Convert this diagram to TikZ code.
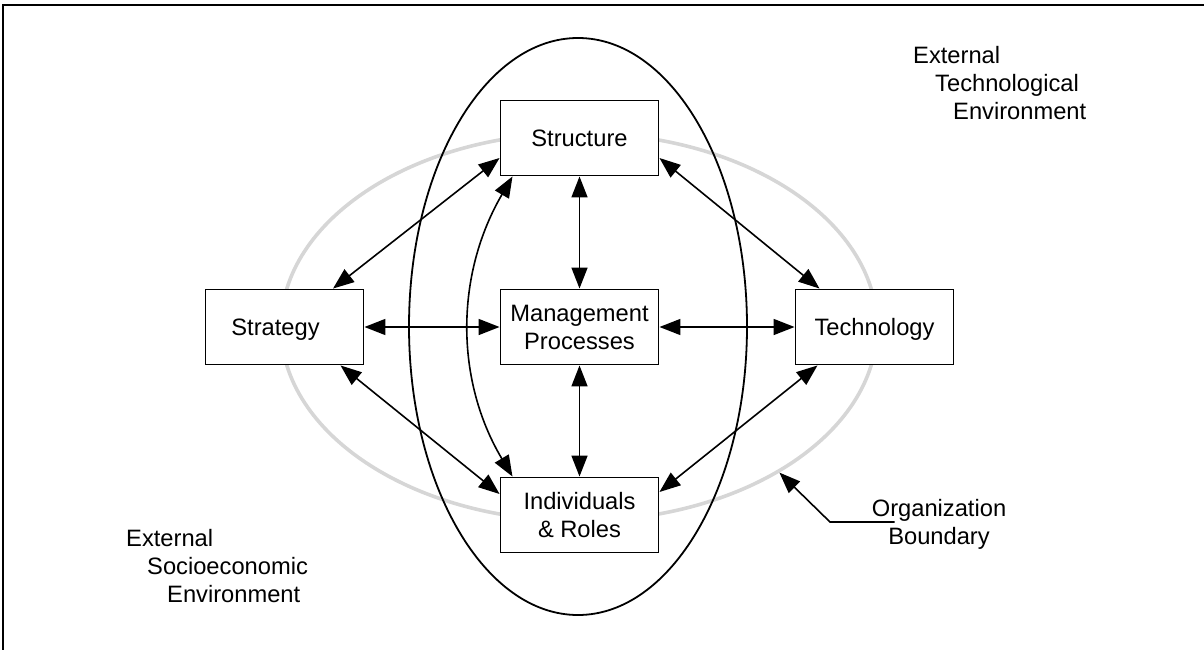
\documentclass[tikz,border=0pt]{standalone}
\usepackage{fontspec}
\setmainfont{Liberation Sans}
\usetikzlibrary{arrows.meta,shapes.geometric,calc}
\begin{document}
\begin{tikzpicture}[x=1pt,y=-1pt,
  font=\fontsize{23.7}{28}\selectfont,
  box/.style={draw, line width=1.9pt, fill=white, minimum width=158pt, minimum height=75pt, inner sep=0pt, align=center, text depth=0pt},
  link/.style={line width=1.6pt, {Triangle[length=21pt,width=16pt]}-{Triangle[length=21pt,width=16pt]}},
  pointer/.style={line width=1.6pt, -{Triangle[length=21pt,width=16pt]}},
  envtext/.style={align=left, inner sep=0pt, anchor=north west}]
\useasboundingbox (0,0) rectangle (1204,650);
% frame
\draw[line width=2.6pt] (3,650) -- (3,5) -- (1204,5);
% ellipses
\node[ellipse, draw=black!16, line width=3.6pt, minimum width=596pt, minimum height=388pt, inner sep=0pt] (orgboundary) at (579,327) {};
\node[ellipse, draw, line width=1.8pt, minimum width=338pt, minimum height=577pt, inner sep=0pt] (core) at (578,326.5) {};
% boxes
\node[box] (structure) at (579.5,138) {Structure};
\node[box] (strategy) at (284.5,327) {Strategy\hspace*{18pt}};
\node[box] (management) at (579.5,327) {Management\\Processes};
\node[box] (technology) at (874.5,327) {Technology};
\node[box] (individuals) at (579.5,515) {Individuals\\\& Roles};
% connectors
\draw[link] ($(strategy.north)+(48.5,0)$) -- ($(structure.west)+(0,20)$);
\draw[link] ($(structure.east)+(0,20)$) -- ($(technology.north)+(-55,0)$);
\draw[link] (structure) -- (management);
\draw[link] (strategy) -- (management);
\draw[link] (management) -- (technology);
\draw[link] (management) -- (individuals);
\draw[link] ($(strategy.south)+(56,0)$) -- ($(individuals.west)+(0,-21)$);
\draw[link] ($(technology.south)+(-57,0)$) -- ($(individuals.east)+(0,-23)$);
\draw[link] ($(structure.south)+(-67,0)$) .. controls (455,275) and (455,380) .. ($(individuals.north)+(-67,0)$);
% texts
\node[envtext] (techenv) at (913,45.7) {External\\\hspace*{22pt}Technological\\\hspace*{40pt}Environment};
\node[envtext] (socenv) at (126,529.4) {External\\\hspace*{21pt}Socioeconomic\\\hspace*{41pt}Environment};
\node[align=center, inner sep=0pt] (orgtext) at (939,524.5) {Organization\\Boundary};
\coordinate (orgelbow) at (830,522);
\draw[pointer] ($(orgtext.west)+(23,-2.5)$) -- (orgelbow) -- (orgboundary.-36);
\end{tikzpicture}
\end{document}
